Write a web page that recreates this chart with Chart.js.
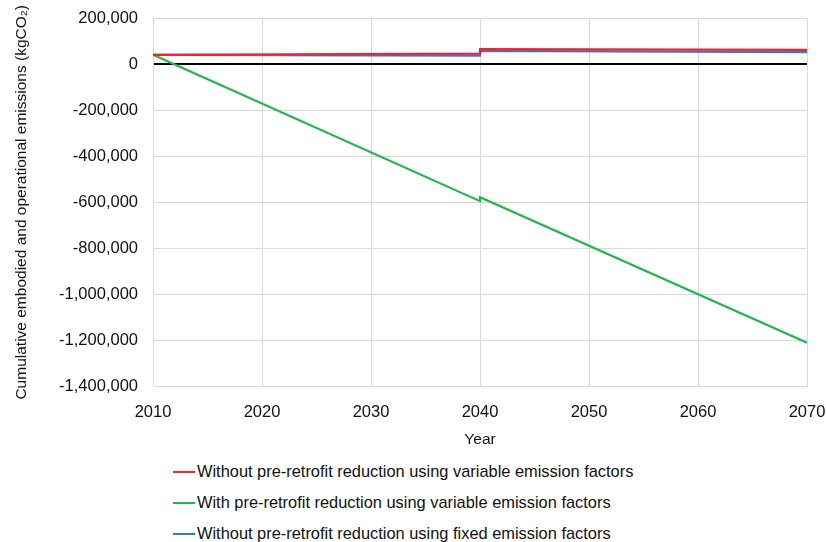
<!DOCTYPE html>
<html>
<head>
<meta charset="utf-8">
<script src="https://cdn.jsdelivr.net/npm/chart.js@4/dist/chart.umd.min.js"></script>
<style>
  html, body { margin: 0; padding: 0; background: #fff; }
  body { width: 826px; height: 542px; overflow: hidden; font-family: 'Liberation Sans', Arial, sans-serif; }
  #wrap { position: relative; width: 826px; height: 449px; }
  #legend { margin: 7px 0 0 173px; }
  .lg-item { display: flex; align-items: center; height: 31px; font-size: 16.4px; color: #111; }
  .lg-line { width: 22px; height: 2px; margin-right: 2px; }
</style>
</head>
<body>
<div id="wrap"><canvas id="chart"></canvas></div>
<div id="legend"></div>
<script>
// ── Data ───────────────────────────────────────────────────
// each series has a step at 2040 (two points at the same year)
const years      = [2010, 2040, 2040, 2070];
const redVals    = [40000, 45000, 65000, 62000];
const greenVals  = [40000, -595000, -578000, -1210000];
const blueVals   = [40000, 37000, 57000, 52000];
const xTicks     = [2010, 2020, 2030, 2040, 2050, 2060, 2070];
const labels     = [
  'Without pre-retrofit reduction using variable emission factors',
  'With pre-retrofit reduction using variable emission factors',
  'Without pre-retrofit reduction using fixed emission factors'
];

const RED = '#f5222a';
const GREEN = '#1fb84a';
const BLUE = '#2d7bd2';
const FONT = "'Liberation Sans', Arial, sans-serif";

const pts = vals => years.map((x, i) => ({ x, y: vals[i] }));

const series = [
  { label: labels[0], data: pts(redVals), color: RED, order: 1 },
  { label: labels[1], data: pts(greenVals), color: GREEN, order: 2 },
  { label: labels[2], data: pts(blueVals), color: BLUE, order: 3 },
];

// ── Chart ──────────────────────────────────────────────────
new Chart(document.getElementById('chart'), {
  type: 'line',
  data: {
    datasets: series.map(s => ({
      label: s.label,
      data: s.data,
      borderColor: s.color,
      backgroundColor: s.color,
      borderWidth: 2.2,
      pointRadius: 0,
      tension: 0,
      order: s.order,
    }))
  },
  options: {
    responsive: true,
    maintainAspectRatio: false,
    animation: false,
    layout: { padding: { left: 8, right: 19, top: 18, bottom: 0 } },
    plugins: {
      legend: { display: false },
      tooltip: { enabled: false }
    },
    scales: {
      x: {
        type: 'linear',
        min: 2010, max: 2070,
        afterBuildTicks: axis => { axis.ticks = xTicks.map(v => ({ value: v })); },
        afterFit: axis => { axis.paddingRight = 0; axis.paddingLeft = 0; },
        grid: { color: '#d9d9d9', drawTicks: false },
        border: { color: '#d9d9d9' },
        ticks: { color: '#111', font: { family: FONT, size: 16.5 }, padding: 16, maxRotation: 0, callback: v => String(v) },
        title: { display: true, text: 'Year', color: '#111', font: { family: FONT, size: 15.5 }, padding: { top: -8, bottom: 0 } }
      },
      y: {
        min: -1400000, max: 200000,
        afterFit: axis => { axis.width = 145; axis.paddingTop = 0; axis.paddingBottom = 0; },
        grid: {
          drawTicks: false,
          color: ctx => ctx.tick && ctx.tick.value === 0 ? '#000' : '#d9d9d9',
          lineWidth: ctx => ctx.tick && ctx.tick.value === 0 ? 2 : 1
        },
        border: { color: '#d9d9d9' },
        ticks: {
          stepSize: 200000, color: '#111', padding: 15,
          font: { family: FONT, size: 16.5 },
          callback: v => v.toLocaleString('en-US')
        },
        title: { display: true, text: 'Cumulative embodied and operational emissions (kgCO₂)', color: '#111', font: { family: FONT, size: 15.5 }, padding: { bottom: 4 } }
      }
    }
  }
});

// ── Legend ─────────────────────────────────────────────────
const lg = document.getElementById('legend');
series.forEach(s => {
  const row = document.createElement('div');
  row.className = 'lg-item';
  row.innerHTML = `<span class="lg-line" style="background:${s.color}"></span>${s.label}`;
  lg.appendChild(row);
});
</script>
</body>
</html>
